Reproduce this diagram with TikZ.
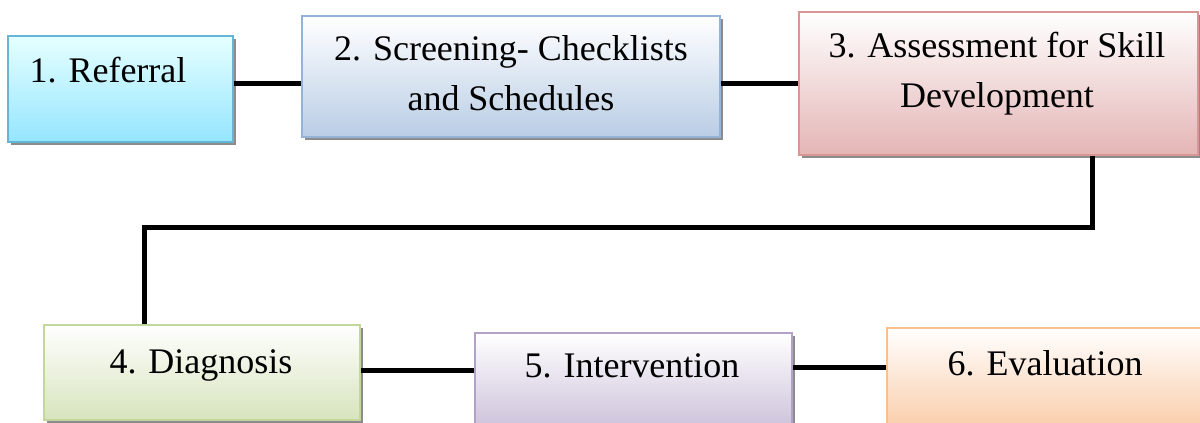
\documentclass[tikz,border=0pt]{standalone}
\usepackage{fontspec}
\setmainfont{Liberation Serif}
\usetikzlibrary{shadows}
\begin{document}
\begin{tikzpicture}[x=1pt,y=1pt,
  stepbox/.style={draw, line width=1.6pt, shading=axis, shading angle=0, inner sep=0pt,
    drop shadow={shadow xshift=3pt, shadow yshift=-3pt, fill=black!45, opacity=1}},
  txt/.style={font=\fontsize{36}{50}\selectfont, align=center, inner sep=0pt},
  conn/.style={line width=5pt, black}]
\useasboundingbox (0,0) rectangle (1200,-423);
\clip (0,0) rectangle (1200,-423);
% boxes
\node[stepbox, draw=cyan!55!teal!70, top color=cyan!10, bottom color=cyan!35!white!90!blue, minimum width=225, minimum height=106] (b1) at (120.5,-89) {};
\node[stepbox, draw={rgb,255:red,149;green,179;blue,215}, top color=white, bottom color={rgb,255:red,185;green,205;blue,229}, minimum width=418, minimum height=121] (b2) at (511,-76.5) {};
\node[stepbox, draw={rgb,255:red,217;green,150;blue,148}, top color=white, bottom color={rgb,255:red,228;green,181;blue,181}, minimum width=399, minimum height=143] (b3) at (998.5,-83.5) {};
\node[stepbox, draw={rgb,255:red,195;green,214;blue,155}, top color=white, bottom color={rgb,255:red,215;green,228;blue,189}, minimum width=316, minimum height=95] (b4) at (202,-372.5) {};
\node[stepbox, draw={rgb,255:red,179;green,162;blue,199}, top color=white, bottom color={rgb,255:red,204;green,193;blue,218}, minimum width=317, minimum height=97] (b5) at (633.5,-381.5) {};
\node[stepbox, draw={rgb,255:red,250;green,192;blue,144}, top color=white, bottom color={rgb,255:red,250;green,205;blue,170}, minimum width=316, minimum height=100] (b6) at (1045,-378) {};
% texts
\node[txt, anchor=base] (t1) at (108,-82) {1. Referral};
\node[txt, anchor=base] (t2) at (511,-110) {2. Screening- Checklists\\and Schedules};
\node[txt, anchor=base] (t3) at (997,-107) {3. Assessment for Skill\\Development};
\node[txt, anchor=base] (t4) at (201,-373) {4. Diagnosis};
\node[txt, anchor=base] (t5) at (632,-377) {5. Intervention};
\node[txt, anchor=base] (t6) at (1045,-375) {6. Evaluation};
% connectors
\draw[conn] ([yshift=6]b1.east) -- ([yshift=6]b1.east -| b2.west);
\draw[conn] ([yshift=-6.5]b2.east) -- ([yshift=-6.5]b2.east -| b3.west);
\draw[conn] ([xshift=93.5]b3.south) -- ++(0,-72) -| ([xshift=-58]b4.north);
\draw[conn] ([yshift=2.5]b4.east) -- ([yshift=2.5]b4.east -| b5.west);
\draw[conn] ([yshift=14.5]b5.east) -- ([yshift=14.5]b5.east -| b6.west);
\end{tikzpicture}
\end{document}
